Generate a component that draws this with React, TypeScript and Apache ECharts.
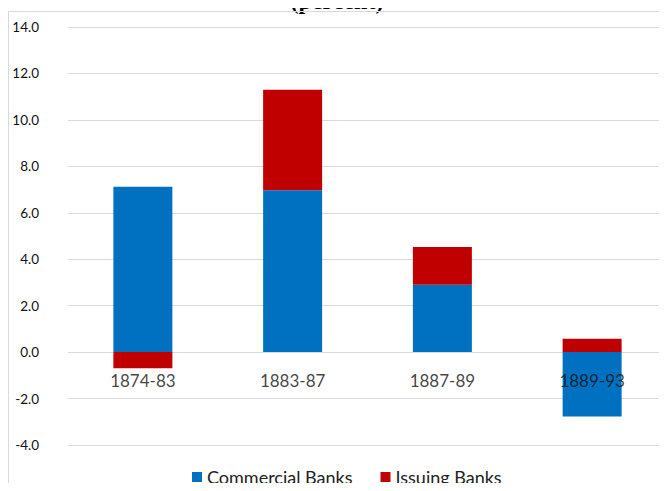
import React, { useEffect, useRef } from "react";
import * as echarts from "echarts";

const categories = ["1874-83", "1883-87", "1887-89", "1889-93"];
const commercialBanks = [7.12, 6.97, 2.9, -2.77];
const issuingBanks = [-0.69, 4.33, 1.63, 0.57];
const yTicks = { min: -4, max: 14, interval: 2 };

export default function App() {
  const ref = useRef<HTMLDivElement>(null);
  useEffect(() => {
    const chart = echarts.init(ref.current!, null, { renderer: "svg" });
    const font = "Lato, 'Open Sans', sans-serif";
    chart.setOption({
      animation: false,
      title: {
        text: "(percent)",
        left: 332,
        top: -16,
        textAlign: "center",
        textStyle: { fontFamily: "'Liberation Serif', 'Times New Roman', serif", fontWeight: "bold", fontSize: 24, color: "#000" },
      },
      graphic: [
        {
          type: "rect",
          silent: true,
          z: 100,
          shape: { x: 8.5, y: 11.5, width: 700, height: 520 },
          style: { fill: "none", stroke: "#d9d9d9", lineWidth: 1 },
        },
      ],
      legend: {
        top: 463,
        left: 187,
        itemWidth: 10,
        itemHeight: 10,
        itemGap: 28,
        icon: "rect",
        textStyle: { fontFamily: font, fontSize: 18, color: "#222" },
        data: ["Commercial Banks", "Issuing Banks"],
      },
      grid: { left: 68, right: -3, top: 27, bottom: 46, containLabel: false },
      xAxis: {
        type: "category",
        data: categories,
        axisLine: { show: false },
        axisTick: { show: false },
        axisLabel: { show: false },
      },
      yAxis: {
        type: "value",
        min: yTicks.min,
        max: yTicks.max,
        interval: yTicks.interval,
        axisLine: { show: false },
        axisTick: { show: false },
        splitLine: { lineStyle: { color: "#d9d9d9", width: 1 } },
        axisLabel: {
          margin: 29,
          fontFamily: font,
          fontSize: 13.5,
          color: "#111",
          formatter: (v: number) => v.toFixed(1),
        },
      },
      series: [
        {
          name: "Commercial Banks",
          type: "bar",
          stack: "total",
          barWidth: 59,
          data: commercialBanks,
          itemStyle: { color: "#0070C0" },
        },
        {
          name: "Issuing Banks",
          type: "bar",
          stack: "total",
          barWidth: 59,
          data: issuingBanks,
          itemStyle: { color: "#C00000" },
        },
        {
          name: "labels",
          type: "scatter",
          z: 10,
          symbolSize: 0,
          silent: true,
          data: categories.map((c) => [c, 0]),
          label: {
            show: true,
            position: "bottom",
            distance: 20,
            formatter: (p: any) => p.value[0],
            fontFamily: font,
            fontSize: 17,
            color: "#111",
          },
        },
      ],
    });
    return () => chart.dispose();
  }, []);
  return <div ref={ref} style={{ width: 667, height: 491, margin: -8 }} />;
}
